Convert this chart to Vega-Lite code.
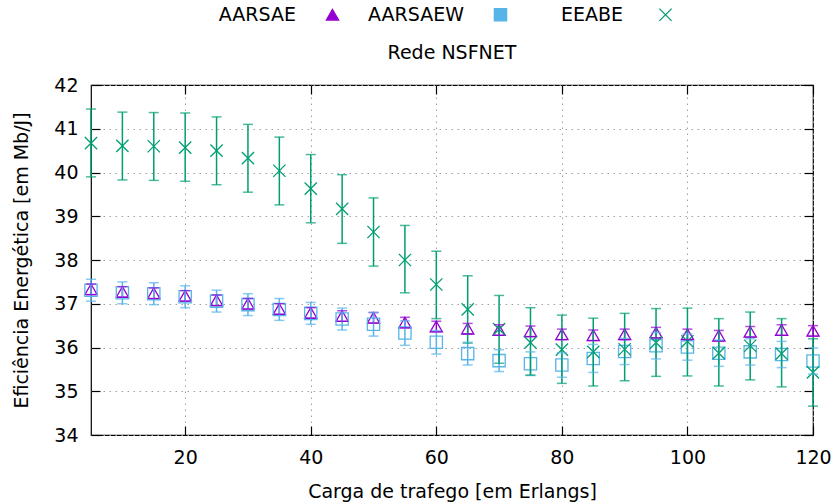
{
  "$schema": "https://vega.github.io/schema/vega-lite/v6.json",
  "width": 722,
  "height": 350,
  "autosize": {"type": "none"},
  "padding": {"left": 91, "top": 85, "right": 21, "bottom": 69},
  "background": "white",
  "title": {"text": "Rede NSFNET", "anchor": "middle", "frame": "group", "offset": 0, "dy": 58, "font": "DejaVu Sans", "fontSize": 19, "fontWeight": "normal", "color": "black"},
  "config": {
    "font": "DejaVu Sans",
    "view": {"stroke": "black", "strokeWidth": 1.2},
    "axis": {
      "labelFont": "DejaVu Sans", "labelFontSize": 19, "labelColor": "black",
      "titleFont": "DejaVu Sans", "titleFontSize": 19, "titleFontWeight": "normal", "titleColor": "black",
      "domain": false, "tickColor": "black", "tickSize": -9, "tickWidth": 1.2, "labelFlush": false,
      "gridColor": "#a0a0a0", "gridDash": [1.5, 4.5], "gridWidth": 1, "gridOpacity": 1
    },
    "legend": {
      "labelFont": "DejaVu Sans", "labelFontSize": 19, "labelColor": "black",
      "orient": "none", "legendX": 232, "legendY": -80, "direction": "horizontal",
      "labelAlign": "right", "labelOffset": -46, "columnPadding": 26,
      "symbolStrokeWidth": 1.3, "symbolSize": 150, "symbolFillColor": "transparent"
    }
  },
  "data": {
    "values": [
      {"series": "AARSAE", "x": 5, "y": 37.33, "lo": 37.21, "hi": 37.45},
      {"series": "AARSAE", "x": 10, "y": 37.27, "lo": 37.15, "hi": 37.39},
      {"series": "AARSAE", "x": 15, "y": 37.24, "lo": 37.12, "hi": 37.36},
      {"series": "AARSAE", "x": 20, "y": 37.18, "lo": 37.06, "hi": 37.30},
      {"series": "AARSAE", "x": 25, "y": 37.08, "lo": 36.96, "hi": 37.20},
      {"series": "AARSAE", "x": 30, "y": 37.00, "lo": 36.88, "hi": 37.12},
      {"series": "AARSAE", "x": 35, "y": 36.88, "lo": 36.76, "hi": 37.00},
      {"series": "AARSAE", "x": 40, "y": 36.79, "lo": 36.67, "hi": 36.91},
      {"series": "AARSAE", "x": 45, "y": 36.72, "lo": 36.60, "hi": 36.84},
      {"series": "AARSAE", "x": 50, "y": 36.68, "lo": 36.56, "hi": 36.80},
      {"series": "AARSAE", "x": 55, "y": 36.57, "lo": 36.45, "hi": 36.69},
      {"series": "AARSAE", "x": 60, "y": 36.48, "lo": 36.36, "hi": 36.60},
      {"series": "AARSAE", "x": 65, "y": 36.43, "lo": 36.31, "hi": 36.55},
      {"series": "AARSAE", "x": 70, "y": 36.40, "lo": 36.28, "hi": 36.52},
      {"series": "AARSAE", "x": 75, "y": 36.37, "lo": 36.25, "hi": 36.49},
      {"series": "AARSAE", "x": 80, "y": 36.30, "lo": 36.18, "hi": 36.42},
      {"series": "AARSAE", "x": 85, "y": 36.28, "lo": 36.16, "hi": 36.40},
      {"series": "AARSAE", "x": 90, "y": 36.30, "lo": 36.18, "hi": 36.42},
      {"series": "AARSAE", "x": 95, "y": 36.34, "lo": 36.22, "hi": 36.46},
      {"series": "AARSAE", "x": 100, "y": 36.30, "lo": 36.18, "hi": 36.42},
      {"series": "AARSAE", "x": 105, "y": 36.27, "lo": 36.15, "hi": 36.39},
      {"series": "AARSAE", "x": 110, "y": 36.36, "lo": 36.24, "hi": 36.48},
      {"series": "AARSAE", "x": 115, "y": 36.40, "lo": 36.28, "hi": 36.52},
      {"series": "AARSAE", "x": 120, "y": 36.38, "lo": 36.26, "hi": 36.50},
      {"series": "AARSAEW", "x": 5, "y": 37.31, "lo": 37.06, "hi": 37.56},
      {"series": "AARSAEW", "x": 10, "y": 37.25, "lo": 37.00, "hi": 37.50},
      {"series": "AARSAEW", "x": 15, "y": 37.23, "lo": 36.98, "hi": 37.48},
      {"series": "AARSAEW", "x": 20, "y": 37.16, "lo": 36.91, "hi": 37.41},
      {"series": "AARSAEW", "x": 25, "y": 37.06, "lo": 36.81, "hi": 37.31},
      {"series": "AARSAEW", "x": 30, "y": 36.98, "lo": 36.73, "hi": 37.23},
      {"series": "AARSAEW", "x": 35, "y": 36.87, "lo": 36.62, "hi": 37.12},
      {"series": "AARSAEW", "x": 40, "y": 36.78, "lo": 36.53, "hi": 37.03},
      {"series": "AARSAEW", "x": 45, "y": 36.65, "lo": 36.40, "hi": 36.90},
      {"series": "AARSAEW", "x": 50, "y": 36.53, "lo": 36.26, "hi": 36.80},
      {"series": "AARSAEW", "x": 55, "y": 36.33, "lo": 36.05, "hi": 36.61},
      {"series": "AARSAEW", "x": 60, "y": 36.12, "lo": 35.85, "hi": 36.39},
      {"series": "AARSAEW", "x": 65, "y": 35.86, "lo": 35.60, "hi": 36.12},
      {"series": "AARSAEW", "x": 70, "y": 35.70, "lo": 35.45, "hi": 35.95},
      {"series": "AARSAEW", "x": 75, "y": 35.63, "lo": 35.36, "hi": 35.90},
      {"series": "AARSAEW", "x": 80, "y": 35.60, "lo": 35.32, "hi": 35.88},
      {"series": "AARSAEW", "x": 85, "y": 35.75, "lo": 35.43, "hi": 36.07},
      {"series": "AARSAEW", "x": 90, "y": 35.91, "lo": 35.61, "hi": 36.21},
      {"series": "AARSAEW", "x": 95, "y": 36.04, "lo": 35.74, "hi": 36.34},
      {"series": "AARSAEW", "x": 100, "y": 36.01, "lo": 35.71, "hi": 36.31},
      {"series": "AARSAEW", "x": 105, "y": 35.87, "lo": 35.57, "hi": 36.17},
      {"series": "AARSAEW", "x": 110, "y": 35.90, "lo": 35.60, "hi": 36.20},
      {"series": "AARSAEW", "x": 115, "y": 35.84, "lo": 35.54, "hi": 36.14},
      {"series": "AARSAEW", "x": 120, "y": 35.69, "lo": 35.39, "hi": 35.99},
      {"series": "EEABE", "x": 5, "y": 40.67, "lo": 39.90, "hi": 41.45},
      {"series": "EEABE", "x": 10, "y": 40.61, "lo": 39.83, "hi": 41.38},
      {"series": "EEABE", "x": 15, "y": 40.60, "lo": 39.82, "hi": 41.37},
      {"series": "EEABE", "x": 20, "y": 40.57, "lo": 39.80, "hi": 41.36},
      {"series": "EEABE", "x": 25, "y": 40.50, "lo": 39.72, "hi": 41.27},
      {"series": "EEABE", "x": 30, "y": 40.33, "lo": 39.55, "hi": 41.10},
      {"series": "EEABE", "x": 35, "y": 40.04, "lo": 39.26, "hi": 40.81},
      {"series": "EEABE", "x": 40, "y": 39.63, "lo": 38.85, "hi": 40.41},
      {"series": "EEABE", "x": 45, "y": 39.17, "lo": 38.38, "hi": 39.95},
      {"series": "EEABE", "x": 50, "y": 38.64, "lo": 37.86, "hi": 39.42},
      {"series": "EEABE", "x": 55, "y": 38.00, "lo": 37.25, "hi": 38.79},
      {"series": "EEABE", "x": 60, "y": 37.44, "lo": 36.66, "hi": 38.20},
      {"series": "EEABE", "x": 65, "y": 36.87, "lo": 36.10, "hi": 37.64},
      {"series": "EEABE", "x": 70, "y": 36.42, "lo": 35.64, "hi": 37.19},
      {"series": "EEABE", "x": 75, "y": 36.11, "lo": 35.37, "hi": 36.91},
      {"series": "EEABE", "x": 80, "y": 35.95, "lo": 35.18, "hi": 36.74},
      {"series": "EEABE", "x": 85, "y": 35.90, "lo": 35.12, "hi": 36.67},
      {"series": "EEABE", "x": 90, "y": 35.96, "lo": 35.24, "hi": 36.78},
      {"series": "EEABE", "x": 95, "y": 36.11, "lo": 35.34, "hi": 36.89},
      {"series": "EEABE", "x": 100, "y": 36.14, "lo": 35.35, "hi": 36.90},
      {"series": "EEABE", "x": 105, "y": 35.87, "lo": 35.12, "hi": 36.66},
      {"series": "EEABE", "x": 110, "y": 36.04, "lo": 35.26, "hi": 36.81},
      {"series": "EEABE", "x": 115, "y": 35.86, "lo": 35.10, "hi": 36.66},
      {"series": "EEABE", "x": 120, "y": 35.43, "lo": 34.66, "hi": 36.20}
    ]
  },
  "resolve": {"axis": {"x": "independent", "y": "independent"}},
  "layer": [
    {
      "mark": {"type": "point", "filled": false, "fill": "transparent", "strokeWidth": 1.3, "size": 150, "opacity": 1},
      "encoding": {
        "x": {"field": "x", "type": "quantitative", "scale": {"domain": [5, 120], "nice": false, "zero": false},
          "axis": {"orient": "bottom", "values": [20, 40, 60, 80, 100, 120], "title": "Carga de trafego [em Erlangs]", "grid": true, "labelPadding": 22, "titlePadding": 15}},
        "y": {"field": "y", "type": "quantitative", "scale": {"domain": [34, 42], "nice": false, "zero": false},
          "axis": {"orient": "left", "values": [34, 35, 36, 37, 38, 39, 40, 41, 42], "title": "Eficiência Energética [em Mb/J]", "grid": true, "labelPadding": 22, "titlePadding": 22}},
        "stroke": {"field": "series", "type": "nominal", "scale": {"domain": ["AARSAE", "AARSAEW", "EEABE"], "range": ["#9400d3", "#56b4e9", "#009e73"]},
          "legend": {"title": null, "symbolFillColor": "transparent", "labelExpr": "datum.label == 'EEABE' ? '\u200b\u00a0\u00a0\u00a0\u00a0EEABE\u00a0\u200b' : datum.label"}},
        "shape": {"field": "series", "type": "nominal", "scale": {"domain": ["AARSAE", "AARSAEW", "EEABE"], "range": ["triangle-up", "square", "M-1,-1L1,1M-1,1L1,-1"]},
          "legend": {"title": null, "symbolFillColor": "transparent", "labelExpr": "datum.label == 'EEABE' ? '\u200b\u00a0\u00a0\u00a0\u00a0EEABE\u00a0\u200b' : datum.label"}}
      }
    },
    {
      "mark": {"type": "rule", "strokeWidth": 1.5},
      "encoding": {
        "x": {"field": "x", "type": "quantitative", "axis": {"orient": "top", "values": [20, 40, 60, 80, 100, 120], "labels": false, "title": null, "grid": false}},
        "y": {"field": "lo", "type": "quantitative", "axis": {"orient": "right", "values": [34, 35, 36, 37, 38, 39, 40, 41, 42], "labels": false, "title": null, "grid": false}},
        "y2": {"field": "hi"},
        "color": {"field": "series", "type": "nominal", "scale": {"domain": ["AARSAE", "AARSAEW", "EEABE"], "range": ["#9400d3", "#56b4e9", "#009e73"]}, "legend": null}
      }
    },
    {
      "mark": {"type": "tick", "orient": "horizontal", "size": 10, "thickness": 1.5},
      "encoding": {
        "x": {"field": "x", "type": "quantitative", "axis": null},
        "y": {"field": "lo", "type": "quantitative", "axis": null},
        "color": {"field": "series", "type": "nominal", "legend": null}
      }
    },
    {
      "mark": {"type": "tick", "orient": "horizontal", "size": 10, "thickness": 1.5},
      "encoding": {
        "x": {"field": "x", "type": "quantitative", "axis": null},
        "y": {"field": "hi", "type": "quantitative", "axis": null},
        "color": {"field": "series", "type": "nominal", "legend": null}
      }
    }
  ]
}
